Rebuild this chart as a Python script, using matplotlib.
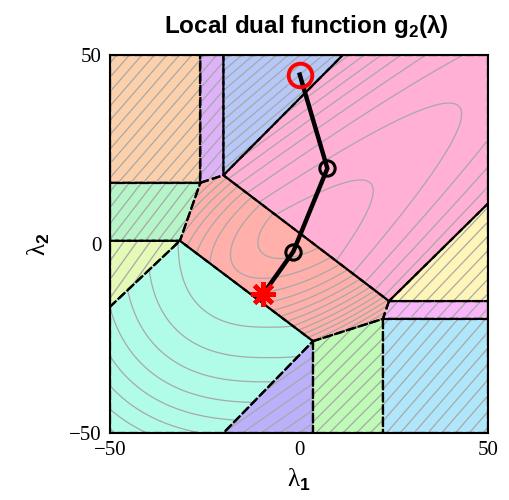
import numpy as np
import matplotlib
matplotlib.use("Agg")
import matplotlib.pyplot as plt
from matplotlib.patches import Polygon

plt.rcParams["mathtext.fontset"] = "custom"
plt.rcParams["mathtext.rm"] = "Liberation Sans"
plt.rcParams["mathtext.bf"] = "Liberation Sans:bold"
plt.rcParams["contour.negative_linestyle"] = "solid"

# ---------------- data ----------------
region_names = ["orange", "purple", "blue", "pink", "green_left", "yellowgreen",
                "cyan", "salmon", "lavender", "green_bottom", "lightblue",
                "pink_strip", "yellow"]
region_colors = ["#FDD0AC", "#DDB2F8", "#B5C8F8", "#FFB0D4", "#B5F5C8", "#E4FAB6",
                 "#B0FCE8", "#FFB0AA", "#BBB0FA", "#BFFAB6", "#B0E6FA",
                 "#F8B6F8", "#FFF5B8"]
orange_v = [(-50, 50), (-26.1, 50), (-26.1, 16.2), (-50, 16.2)]
purple_v = [(-26.1, 50), (-20, 50), (-20, 18.2), (-26.1, 16.2)]
blue_v = [(-20, 50), (11.6, 50), (-20, 18.2)]
pink_v = [(11.6, 50), (50, 50), (50, 10.7), (23.8, -15.1), (-20, 18.2)]
green_left_v = [(-50, 16.2), (-26.1, 16.2), (-31.5, 0.85), (-50, 0.85)]
yellowgreen_v = [(-50, 0.85), (-31.5, 0.85), (-50, -16.6)]
cyan_v = [(-50, -16.6), (-31.5, 0.85), (3.7, -25.7), (-20, -50), (-50, -50)]
salmon_v = [(-26.1, 16.2), (-20, 18.2), (23.8, -15.1), (22.2, -19.8),
            (3.7, -25.7), (-31.5, 0.85)]
lavender_v = [(3.7, -25.7), (3.7, -50), (-20, -50)]
green_bottom_v = [(3.7, -25.7), (22.2, -19.8), (22.2, -50), (3.7, -50)]
lightblue_v = [(22.2, -19.8), (50, -19.8), (50, -50), (22.2, -50)]
pink_strip_v = [(23.8, -15.1), (50, -15.1), (50, -19.8), (22.2, -19.8)]
yellow_v = [(23.8, -15.1), (50, 10.7), (50, -15.1)]
region_verts = [orange_v, purple_v, blue_v, pink_v, green_left_v, yellowgreen_v,
                cyan_v, salmon_v, lavender_v, green_bottom_v, lightblue_v,
                pink_strip_v, yellow_v]

# contour families of g2 inside each region
# linear pieces: (slope, intercept step)
linear_pieces = {"orange": (1.15, 3.8), "purple": (1.15, 3.8), "blue": (0.85, 2.6),
                 "green_left": (1.3, 4.2), "yellowgreen": (1.4, 4.9),
                 "lavender": (0.7, 3.5), "green_bottom": (1.0, 3.6),
                 "lightblue": (1.15, 4.2), "pink_strip": (1.1, 4.0),
                 "yellow": (1.05, 3.8)}
# parabolic pieces: (vertex l1, vertex l2, axis angle deg, curvature, level step)
parabolic_pieces = {"pink": (19.0, 16.0, 221.0, 0.23, 31.0)}
# rounded pieces: (centre l1, centre l2, angle deg, aspect, exponent, first d^2, d^2 step)
rounded_pieces = {"salmon": (4.0, 7.0, 31.0, 2.2, 2.0, 620.0, 340.0),
                  "cyan": (-8.0, 2.0, 0.0, 1.0, 2.6, 338.0, 265.0)}

# dual ascent iterates
path_l1 = [-9.4, -1.5, 7.5, 0.2]
path_l2 = [-13.1, -2.0, 20.0, 44.8]

# ---------------- figure ----------------
fig = plt.figure(figsize=(5.1, 5.0), dpi=100)
ax = fig.add_axes([110 / 510, 1 - 433 / 500, 378 / 510, 378 / 500])
ax.set_xlim(-50, 50)
ax.set_ylim(-50, 50)

g = np.linspace(-50, 50, 501)
L1, L2 = np.meshgrid(g, g)

for name, col, verts in zip(region_names, region_colors, region_verts):
    ax.add_patch(Polygon(verts, closed=True, facecolor=col, edgecolor="none", zorder=1))

for name, verts in zip(region_names, region_verts):
    if name in linear_pieces:
        m, dc = linear_pieces[name]
        Z = L2 - m * L1
        levels = np.arange(-400, 400, dc)
    elif name in parabolic_pieces:
        x0, y0, ang, kap, step = parabolic_pieces[name]
        a = np.deg2rad(ang)
        u = np.cos(a) * (L1 - x0) + np.sin(a) * (L2 - y0)
        v = -np.sin(a) * (L1 - x0) + np.cos(a) * (L2 - y0)
        Z = u - kap * v ** 2
        levels = np.arange(-60, 60) * step
    else:
        x0, y0, ang, asp, p, r0, dr = rounded_pieces[name]
        a = np.deg2rad(ang)
        u = np.cos(a) * (L1 - x0) + np.sin(a) * (L2 - y0)
        v = -np.sin(a) * (L1 - x0) + np.cos(a) * (L2 - y0)
        Z = (np.abs(u) ** p + np.abs(asp * v) ** p) ** (2.0 / p)
        levels = (r0 + dr * np.arange(-3, 40)) * 2 ** (2.0 / p if asp == 1.0 else 0.0)
        levels = levels[levels > 0]
    cs = ax.contour(L1, L2, Z, levels=levels, colors="#a8a8a8", linewidths=0.9,
                    linestyles="solid", zorder=2)
    clip = Polygon(verts, closed=True, transform=ax.transData)
    cs.set_clip_path(clip)

for verts in region_verts:
    ax.add_patch(Polygon(verts, closed=True, fill=False, edgecolor="black",
                         linewidth=1.6, linestyle=(0, (4, 1.5)), zorder=3))

ax.plot(path_l1, path_l2, color="black", lw=3.2, zorder=4)
ax.plot(path_l1[1:3], path_l2[1:3], linestyle="none", marker="o", ms=11,
        mfc="none", mec="black", mew=2.2, zorder=5)
ax.plot(path_l1[0], path_l2[0], linestyle="none", marker=(8, 2, 0), ms=18,
        mec="red", mew=3.2, zorder=6)
ax.plot(path_l1[-1], path_l2[-1], linestyle="none", marker="o", ms=17,
        mfc="none", mec="red", mew=2.8, zorder=6)

for s in ax.spines.values():
    s.set_linewidth(1.5)
    s.set_zorder(7)
ax.set_xticks([-50, 0, 50])
ax.set_yticks([-50, 0, 50])
ax.set_xticklabels(["\u221250", "0", "50"], fontfamily="Liberation Serif", fontsize=15)
ax.set_yticklabels(["\u221250", "0", "50"], fontfamily="Liberation Serif", fontsize=15)
ax.tick_params(length=0, pad=6)

ax.set_xlabel("\u03bb$_\\mathbf{1}$", fontfamily="Liberation Serif", fontsize=18, labelpad=5)
ax.set_ylabel("\u03bb$_\\mathbf{2}$", fontfamily="Liberation Serif", fontsize=18, labelpad=12)
ax.set_title("Local dual function g$_\\mathbf{2}$(\u03bb)", fontfamily="Liberation Sans",
             fontweight="bold", fontsize=17.5, pad=16, x=0.52)

fig.savefig("out.png", dpi=100)
